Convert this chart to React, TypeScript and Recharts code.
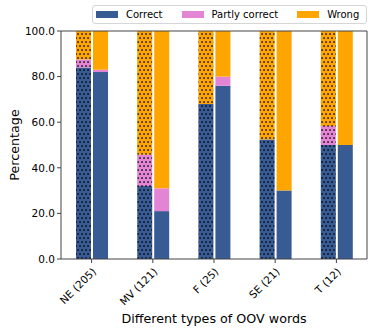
import { Bar, BarChart, XAxis, YAxis } from 'recharts'

const categories = ['NE (205)', 'MV (121)', 'F (25)', 'SE (21)', 'T (12)']

// left (dotted) bars
const correctA = [84, 32, 68, 52.4, 50]
const partlyA = [3.5, 13.7, 0, 0, 8.3]
const wrongA = [12.5, 54.3, 32, 47.6, 41.7]

// right (plain) bars
const correctB = [82, 21, 76, 30, 50]
const partlyB = [1, 10, 4, 0, 0]
const wrongB = [17, 69, 20, 70, 50]

const yTicks = [0, 20, 40, 60, 80, 100]

const BLUE = '#385b94'
const PINK = '#e384d4'
const ORANGE = '#ffa500'
const FONT = '"DejaVu Sans", sans-serif'

const data = categories.map((name, i) => ({
  name,
  cA: correctA[i],
  pA: partlyA[i],
  wA: wrongA[i],
  cB: correctB[i],
  pB: partlyB[i],
  wB: wrongB[i],
}))

const legendItems = [
  { label: 'Correct', color: BLUE },
  { label: 'Partly correct', color: PINK },
  { label: 'Wrong', color: ORANGE },
]

function DotPattern(props: { id: string; color: string }) {
  return (
    <pattern id={props.id} width={4} height={8} patternUnits="userSpaceOnUse">
      <rect width={4} height={8} fill={props.color} />
      <rect x={1.3} y={1.3} width={1.5} height={1.5} fill="#000" />
      <rect x={3.3} y={5.3} width={1.5} height={1.5} fill="#000" />
      <rect x={-0.7} y={5.3} width={1.5} height={1.5} fill="#000" />
    </pattern>
  )
}

function LegendBox() {
  return (
    <div
      style={{
        position: 'absolute',
        left: 92,
        top: 5,
        width: 275,
        height: 19,
        boxSizing: 'border-box',
        display: 'flex',
        alignItems: 'center',
        border: '1px solid #d6d6d6',
        borderRadius: 3,
        background: '#fff',
        paddingLeft: 3,
        fontFamily: FONT,
        fontSize: 10,
        color: '#000',
        whiteSpace: 'nowrap',
        zIndex: 2,
      }}
    >
      {legendItems.map((it, i) => (
        <div key={it.label} style={{ display: 'flex', alignItems: 'center', flexShrink: 0, marginLeft: i === 0 ? 0 : 19 }}>
          <span style={{ width: 22, height: 7, background: it.color, display: 'inline-block', marginRight: 8 }} />
          <span>{it.label}</span>
        </div>
      ))}
    </div>
  )
}

export default function App() {
  const tickStyle = { fill: '#000', fontSize: 10.5, fontFamily: FONT }
  return (
    <div style={{ position: 'fixed', left: 0, top: 0, width: 374, height: 330, background: '#fff' }}>
      <BarChart
        width={374}
        height={330}
        data={data}
        margin={{ top: 30, right: 6, left: 0, bottom: 0 }}
        barSize={15}
        barGap={2}
      >
        <defs>
          <DotPattern id="dotBlue" color={BLUE} />
          <DotPattern id="dotPink" color={PINK} />
          <DotPattern id="dotOrange" color={ORANGE} />
        </defs>
        <XAxis
          dataKey="name"
          height={71}
          interval={0}
          tick={{ ...tickStyle, angle: -45, textAnchor: 'end', dy: 2 } as any}
          tickSize={4}
          tickLine={{ stroke: '#444' }}
          axisLine={{ stroke: '#444' }}
          label={{ value: 'Different types of OOV words', position: 'insideBottom', offset: 7, style: { fill: '#000', fontSize: 12.7, fontFamily: FONT } }}
        />
        <XAxis xAxisId="top" dataKey="name" orientation="top" tick={false} tickLine={false} axisLine={{ stroke: '#444' }} height={1} />
        <YAxis
          width={61}
          domain={[0, 100]}
          ticks={yTicks}
          tickFormatter={(v: number) => v.toFixed(1)}
          tick={tickStyle}
          tickSize={4}
          tickLine={{ stroke: '#444' }}
          axisLine={{ stroke: '#444' }}
          label={{ value: 'Percentage', angle: -90, position: 'insideLeft', offset: 14, style: { fill: '#000', fontSize: 12.7, fontFamily: FONT, textAnchor: 'middle' } }}
        />
        <YAxis yAxisId="right" orientation="right" domain={[0, 100]} tick={false} tickLine={false} axisLine={{ stroke: '#444' }} width={1} />
        <Bar dataKey="cA" stackId="a" fill="url(#dotBlue)" isAnimationActive={false} />
        <Bar dataKey="pA" stackId="a" fill="url(#dotPink)" isAnimationActive={false} />
        <Bar dataKey="wA" stackId="a" fill="url(#dotOrange)" isAnimationActive={false} />
        <Bar dataKey="cB" stackId="b" fill={BLUE} isAnimationActive={false} />
        <Bar dataKey="pB" stackId="b" fill={PINK} isAnimationActive={false} />
        <Bar dataKey="wB" stackId="b" fill={ORANGE} isAnimationActive={false} />
      </BarChart>
      <LegendBox />
    </div>
  )
}
